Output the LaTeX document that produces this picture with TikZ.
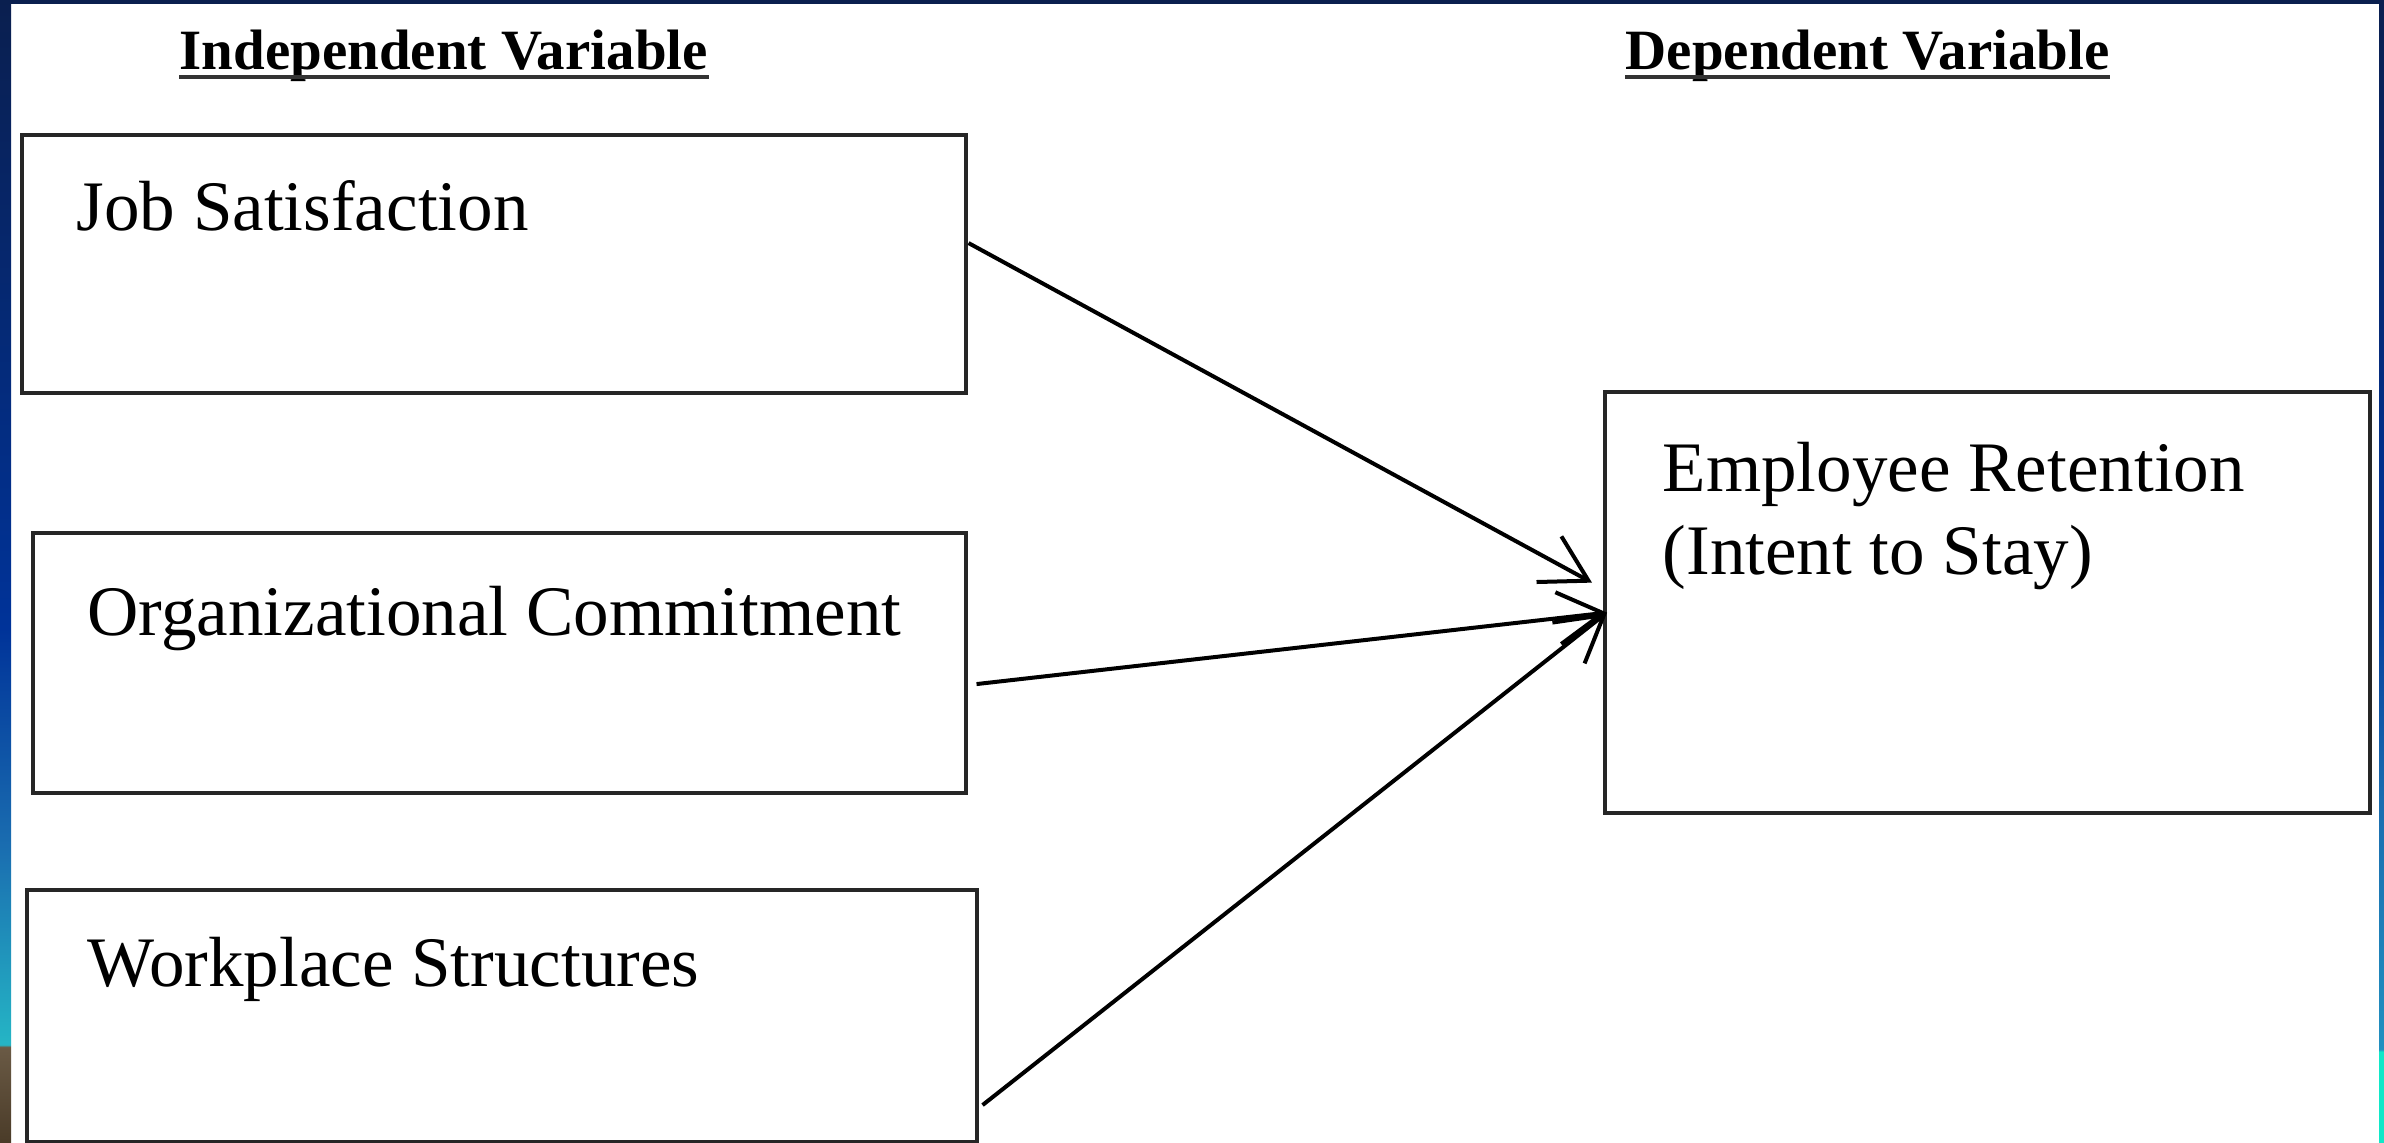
\documentclass[tikz,border=0pt]{standalone}
\usepackage{fontspec}
\setmainfont{Liberation Serif}
\usetikzlibrary{arrows.meta,calc}
\definecolor{navy}{HTML}{0A1F4F}
\definecolor{royal}{HTML}{003399}
\definecolor{midblue}{HTML}{1A6DB0}
\definecolor{tealA}{HTML}{25B5C5}
\definecolor{brownA}{HTML}{6A5A45}
\definecolor{brownB}{HTML}{4A3B28}
\definecolor{aqua}{HTML}{10E8C8}
\definecolor{tealB}{HTML}{2090C0}
\definecolor{boxline}{HTML}{262626}
\pgfdeclareverticalshading{leftband}{100bp}{color(0bp)=(brownB); color(25bp)=(brownB); color(29.2bp)=(brownA); color(29.3bp)=(tealA); color(38bp)=(midblue); color(47.5bp)=(royal); color(75bp)=(navy); color(100bp)=(navy)}
\pgfdeclareverticalshading{rightband}{100bp}{color(0bp)=(aqua); color(25bp)=(aqua); color(29bp)=(aqua); color(29.1bp)=(tealB); color(40bp)=(midblue); color(50bp)=(royal); color(75bp)=(navy); color(100bp)=(navy)}
\begin{document}
\begin{tikzpicture}[x=0.01cm,y=-0.01cm,
  box/.style={draw=boxline, line width=0.04cm, rectangle, inner sep=0pt, outer sep=0pt, anchor=north west},
  body/.style={inner sep=0pt, anchor=base west, font=\fontsize{20.2pt}{24pt}\selectfont},
  head/.style={inner sep=0pt, anchor=base west, font=\fontsize{16.2pt}{19pt}\selectfont\bfseries},
  uline/.style={line width=0.04cm, black!80},
  conn/.style={line width=0.04cm, -{Straight Barb[length=0.45cm,width=0.52cm]}}]
\useasboundingbox (0,0) rectangle (2384,1143);
\fill[white] (0,0) rectangle (2384,1143);
\shade[shading=leftband] (0,0) rectangle (11,1143);
\shade[shading=rightband] (2379,0) rectangle (2384,1143);
\fill[navy] (0,0) rectangle (2384,4);

% headers
\node[head] (ivh) at (179,70) {Independent Variable};
\node[head] (dvh) at (1625,70) {Dependent Variable};
\draw[uline] ([yshift=-0.07cm]ivh.base west) -- ([yshift=-0.07cm]ivh.base east);
\draw[uline] ([yshift=-0.07cm]dvh.base west) -- ([yshift=-0.07cm]dvh.base east);

% boxes
\node[box, minimum width=9.43cm, minimum height=2.58cm] (js) at (22,135) {};
\node[box, minimum width=9.32cm, minimum height=2.60cm] (oc) at (33,533) {};
\node[box, minimum width=9.49cm, minimum height=2.52cm] (ws) at (27,890) {};
\node[box, minimum width=7.65cm, minimum height=4.21cm] (er) at (1605,392) {};

% texts
\node[body] (jst) at (76,231) {Job Satisfaction};
\node[body] (oct) at (87,636) {Organizational Commitment};
\node[body] (wst) at (87,986) {Workplace Structures};
\node[body] (ert1) at (1662,492) {Employee Retention};
\node[body] (ert2) at (1662,575) {(Intent to Stay)};

% connectors
\draw[conn] ([shift={(3,-21)}]js.east) -- ([shift={(-13,-20)}]er.west);
\draw[conn] ([shift={(11,21)}]oc.east) -- ([shift={(2,10)}]er.west);
\draw[conn] ([shift={(6,89)}]ws.east) -- ([shift={(2,10)}]er.west);
\end{tikzpicture}
\end{document}
